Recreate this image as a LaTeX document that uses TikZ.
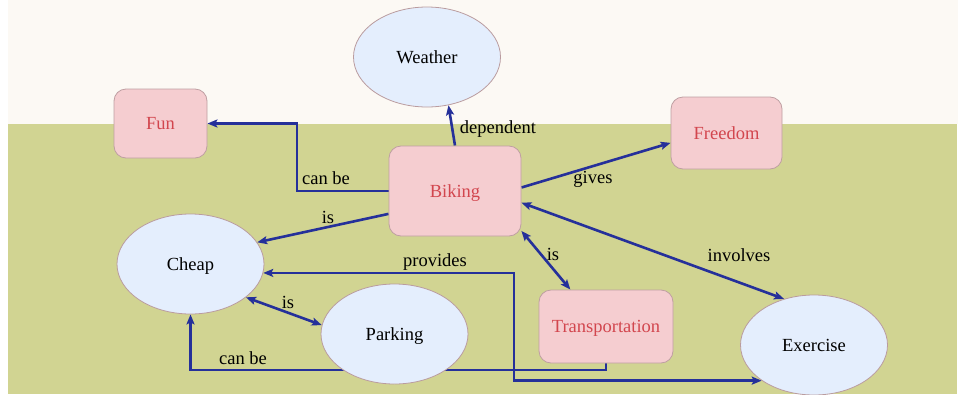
\documentclass[tikz,border=0pt]{standalone}
\usepackage{fontspec}
\setmainfont{Liberation Serif}
\usetikzlibrary{shapes.geometric,arrows.meta}
\pgfdeclarelayer{back}
\pgfdeclarelayer{links}
\pgfsetlayers{back,links,main}

\definecolor{creamBg}{HTML}{FCF9F4}
\definecolor{oliveBg}{HTML}{D1D492}
\definecolor{boxFill}{HTML}{F5CDD0}
\definecolor{boxBorder}{HTML}{BF9FA2}
\definecolor{boxText}{HTML}{D2464E}
\definecolor{ellFill}{HTML}{E4EEFD}
\definecolor{ellBorder}{HTML}{BA9C9F}
\definecolor{linkBlue}{HTML}{25309A}

\begin{document}
\begin{tikzpicture}[
  x=1pt, y=-1pt,
  txt/.style={font=\fontsize{18.5}{21}\selectfont},
  concept/.style={txt, ellipse, draw=ellBorder, fill=ellFill, line width=0.8pt,
    minimum width=147pt, minimum height=100pt, inner sep=0pt, text depth=0pt},
  topic/.style={txt, rectangle, rounded corners=12pt, draw=boxBorder, fill=boxFill,
    text=boxText, line width=0.8pt, inner sep=0pt, text depth=0pt},
  tip/.tip={Stealth[length=10pt,width=8pt,inset=2pt]},
  link/.style={draw=linkBlue, line width=2.6pt, -tip},
  twoway/.style={link, tip-tip},
  lbl/.style={txt, inner sep=1pt}
]
\useasboundingbox (0,0) rectangle (958,394);

% page background: cream band on top, olive field below
\begin{pgfonlayer}{back}
  \fill[white] (0,0) rectangle (958,394);
  \fill[creamBg] (8,0) rectangle (958,124);
  \fill[oliveBg] (8,124) rectangle (957,394);
\end{pgfonlayer}

% concepts
\node[concept] (weather) at (427,57) {Weather};
\node[topic, minimum width=93pt, minimum height=69pt] (fun) at (160.5,123.5) {Fun};
\node[topic, minimum width=132pt, minimum height=90pt] (biking) at (455,191) {Biking};
\node[topic, minimum width=111pt, minimum height=72pt] (freedom) at (726.5,133) {Freedom};
\node[concept] (cheap) at (190.5,264) {Cheap};
\node[concept] (parking) at (394.5,334) {Parking};
\node[topic, minimum width=134pt, minimum height=73pt] (transport) at (606,326.5) {Transportation};
\node[concept] (exercise) at (814,345) {Exercise};

% bend points of the routed links
\coordinate (fc) at (297,150);
\coordinate (pv) at (514,330);
\coordinate (cb) at (300,370);

% links, kept underneath the concepts
\begin{pgfonlayer}{links}
  \draw[link] (biking.west) -| (fc) |- (fun.east);
  \node[lbl] (l-canbe-fun) at (326,178) {can be};

  \draw[link] (biking.north) -- (weather.-66);
  \node[lbl] (l-dependent) at (498,129) {dependent};

  \draw[link] (biking.3) -- (freedom.190);
  \node[lbl] (l-gives) at (593,179) {gives};

  \draw[link] (biking.199) -- (cheap.18);
  \node[lbl] (l-is-cheap) at (328,217) {is};

  \draw[twoway] (biking.-10) -- (exercise.123);
  \node[lbl] (l-involves) at (739,255) {involves};

  \draw[twoway] (biking.-31) -- (transport.134);
  \node[lbl] (l-is-transport) at (553,254) {is};

  \draw[twoway] (cheap.-31) -- (parking.173);
  \node[lbl] (l-is-parking) at (288,302) {is};

  \draw[twoway] (cheap.-7) -| (pv) |- (exercise.south west);
  \node[lbl] (l-provides) at (435,262) {provides};

  \draw[link] (transport.south) |- (cb) -| (cheap.south);
  \node[lbl] (l-canbe-cheap) at (243,358) {can be};
\end{pgfonlayer}
\end{tikzpicture}
\end{document}
